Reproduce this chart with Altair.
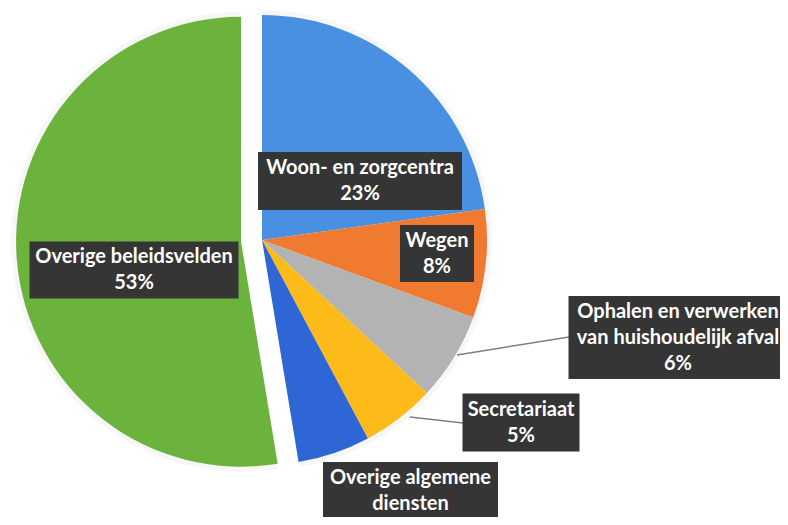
import math
import altair as alt
import pandas as pd

# ---- data ----
categories = [
    "Woon- en zorgcentra",
    "Wegen",
    "Ophalen en verwerken van huishoudelijk afval",
    "Secretariaat",
    "Overige algemene diensten",
    "Overige beleidsvelden",
]
label_names = [
    "Woon- en zorgcentra",
    "Wegen",
    "Ophalen en verwerken\nvan huishoudelijk afval",
    "Secretariaat",
    "Overige algemene\ndiensten",
    "Overige beleidsvelden",
]
values = [22.8, 7.8, 6.3, 5.3, 5.2, 52.6]
exploded = [0, 0, 0, 0, 0, 1]
colors = ["#4A90E2", "#F07A30", "#B3B3B3", "#FDBB1A", "#2E66D6", "#6CB33E"]

# ---- layout (view pixel coordinates) ----
CX, CY, R, EXPLODE = 254, 232, 225, 21
LINE_H = 26
# label box centre x, centre y, width, height
box_cx = [352, 429, 670, 513, 402.5, 126]
box_cy = [173, 245.5, 329.5, 414.5, 496, 262]
box_w = [204, 74, 219, 117, 175, 209]
box_h = [58, 57, 83, 58, 84, 57]
# leader lines: from slice to box
lead_name = ["Ophalen en verwerken van huishoudelijk afval", "Secretariaat"]
lead_x1 = [449, 402]
lead_y1 = [347, 409]
lead_x2 = [561, 455]
lead_y2 = [329, 415]

total = sum(values)
df = pd.DataFrame({
    "name": categories,
    "value": values,
    "explode": exploded,
})
df["end"] = df["value"].cumsum()
df["start"] = df["end"] - df["value"]

texts_list = [f"{n}\n{round(v / total * 100)}%" for n, v in zip(label_names, values)]
lab = pd.DataFrame({
    "name": categories,
    "text": texts_list,
    "cx": box_cx,
    "cy": box_cy,
    "w": box_w,
    "h": box_h,
})
lab["ty"] = [cy - (t.count("\n")) * LINE_H / 2 for cy, t in zip(box_cy, texts_list)]
lab["x1"] = lab["cx"] - lab["w"] / 2
lab["x2"] = lab["cx"] + lab["w"] / 2
lab["y1"] = lab["cy"] - lab["h"] / 2
lab["y2"] = lab["cy"] + lab["h"] / 2

leads = pd.DataFrame({"name": lead_name, "x1": lead_x1, "y1": lead_y1,
                      "x2": lead_x2, "y2": lead_y2})

color_scale = alt.Scale(domain=categories, range=colors)
theta_scale = alt.Scale(domain=[0, total], range=[0, 2 * math.pi])

base = alt.Chart(df).transform_calculate(
    mid=f"(datum.start + datum.end) / 2 / {total} * 2 * PI",
    px=f"{CX} + datum.explode * {EXPLODE} * sin(datum.mid)",
    py=f"{CY} - datum.explode * {EXPLODE} * cos(datum.mid)",
)

shadow = base.mark_arc(radius=R + 5, color="#000000", opacity=0.03).encode(
    x=alt.X("px:Q", scale=None),
    y=alt.Y("py:Q", scale=None),
    theta=alt.Theta("start:Q", scale=theta_scale),
    theta2="end:Q",
)

pie = base.mark_arc(radius=R).encode(
    x=alt.X("px:Q", scale=None),
    y=alt.Y("py:Q", scale=None),
    theta=alt.Theta("start:Q", scale=theta_scale),
    theta2="end:Q",
    color=alt.Color("name:N", scale=color_scale, legend=None),
)

rules = alt.Chart(leads).mark_rule(color="#7f7f7f", strokeWidth=1.5).encode(
    x=alt.X("x1:Q", scale=None),
    y=alt.Y("y1:Q", scale=None),
    x2="x2:Q",
    y2="y2:Q",
)

boxes = alt.Chart(lab).mark_rect(color="#353535").encode(
    x=alt.X("x1:Q", scale=None),
    y=alt.Y("y1:Q", scale=None),
    x2="x2:Q",
    y2="y2:Q",
)

texts = alt.Chart(lab).mark_text(
    font="Lato", fontWeight="bold", fontSize=20, color="#FFFFFF",
    lineBreak="\n", lineHeight=LINE_H, align="center", baseline="middle",
).encode(
    x=alt.X("cx:Q", scale=None),
    y=alt.Y("ty:Q", scale=None),
    text="text:N",
)

chart = alt.layer(shadow, pie, rules, boxes, texts).properties(
    width=772, height=509, padding=0, autosize="none",
).configure_view(stroke=None)

chart.save("out.html", embed_options={"renderer": "svg", "actions": False})
